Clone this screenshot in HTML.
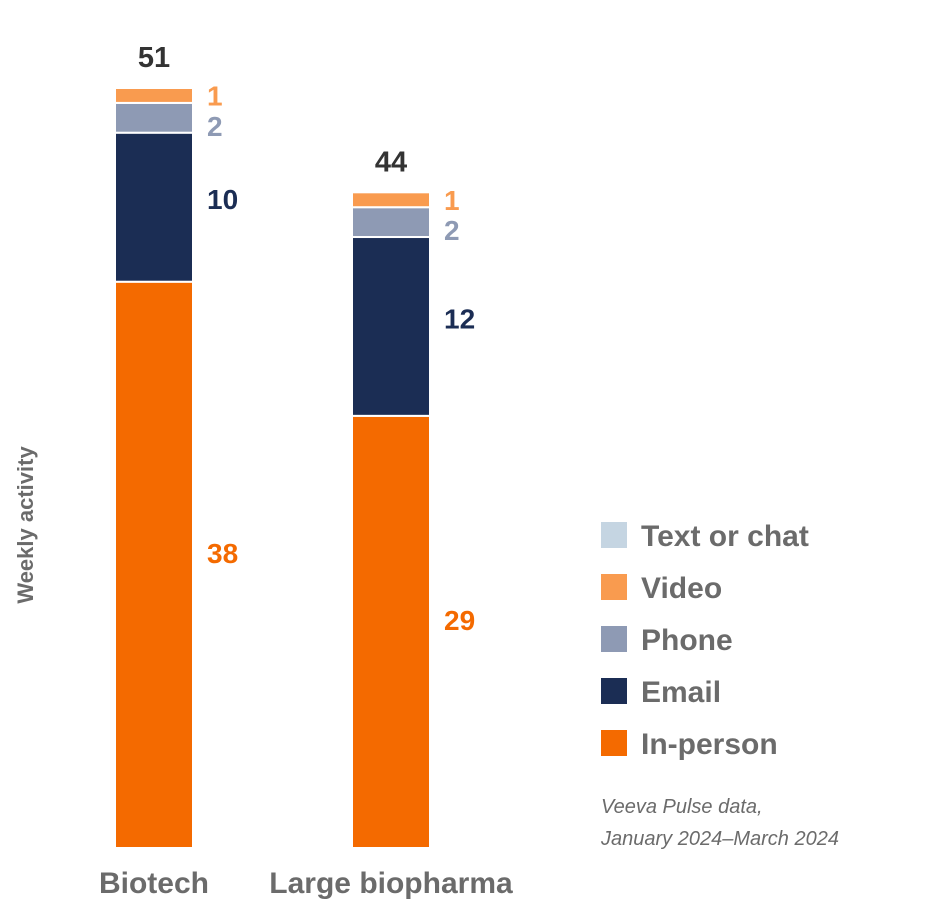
<!DOCTYPE html>
<html><head><meta charset="utf-8"><style>
body{margin:0;background:#fff;}
svg{display:block;font-family:"Liberation Sans",sans-serif;}
</style></head><body>
<svg id="chart" width="940" height="910">
<text transform="translate(33,525) rotate(-90)" text-anchor="middle" font-size="22" font-weight="bold" fill="#6b6b6b">Weekly activity</text>
<g id="bars"></g>
<g id="legend"></g>
<text x="601" y="813" font-size="20" font-style="italic" fill="#6b6b6b">Veeva Pulse data,</text>
<text x="601" y="845" font-size="20" font-style="italic" fill="#6b6b6b">January 2024–March 2024</text>
</svg>
<script>
const categories = ["Biotech", "Large biopharma"];
const seriesNames = ["In-person", "Email", "Phone", "Video", "Text or chat"];
const inPerson = [38, 29];
const email = [10, 12];
const phone = [2, 2];
const video = [1, 1];
const textChat = [0, 0];
const totals = [51, 44];

const colors = ["#F46A00", "#1B2D54", "#8E9AB4", "#F99B4F", "#C5D5E2"];
const labelColors = ["#F46A00", "#1B2D54", "#8E9AB4", "#F99B4F", "#9fb3c4"];
const labelNudge = [-12, -8, 8, 0, 0];
const series = [inPerson, email, phone, video, textChat];
const NS = "http://www.w3.org/2000/svg";
const baseY = 848, maxV = 51, plotH = 760;
const y = v => baseY - v / maxV * plotH;
const xLeft = i => 115 + i * 237;
const barW = 78;
const bars = document.getElementById("bars");
function mk(tag, attrs, txt){const e=document.createElementNS(NS,tag);for(const k in attrs)e.setAttribute(k,attrs[k]);if(txt!==undefined)e.textContent=txt;return e;}

categories.forEach((c, i) => {
  let cum = 0;
  series.forEach((s, k) => {
    const v = s[i];
    if (v <= 0) return;
    const top = y(cum + v), bot = y(cum);
    const r = mk("rect", {x: xLeft(i), y: top, width: barW, height: bot - top, fill: colors[k], stroke: "#fff", "stroke-width": 2});
    
    
    bars.appendChild(r);
    const t = mk("text", {x: xLeft(i) + barW + 14, y: (top + bot) / 2 + 10 + labelNudge[k], "font-size": 28, "font-weight": "bold", fill: labelColors[k]}, String(v));
    
    
    bars.appendChild(t);
    cum += v;
  });
  const tt = mk("text", {x: xLeft(i) + barW / 2, y: y(cum) - 21, "text-anchor": "middle", "font-size": 29, "font-weight": "bold", fill: "#333"}, String(totals[i]));
  
  
  bars.appendChild(tt);
  const cl = mk("text", {x: xLeft(i) + barW / 2, y: 893, "text-anchor": "middle", "font-size": 30, "font-weight": "bold", fill: "#6b6b6b"}, c);
  
  
  bars.appendChild(cl);
});

const legend = document.getElementById("legend");
const legendOrder = [4, 3, 2, 1, 0];
legendOrder.forEach((k, j) => {
  const cy = 535 + j * 52;
  const sw = mk("rect", {x: 601, y: cy - 13, width: 26, height: 26, fill: colors[k]});
  
  
  legend.appendChild(sw);
  const lt = mk("text", {x: 641, y: cy + 11, "font-size": 30, "font-weight": "bold", fill: "#6b6b6b"}, seriesNames[k]);
  
  
  legend.appendChild(lt);
});
</script>
</body></html>
